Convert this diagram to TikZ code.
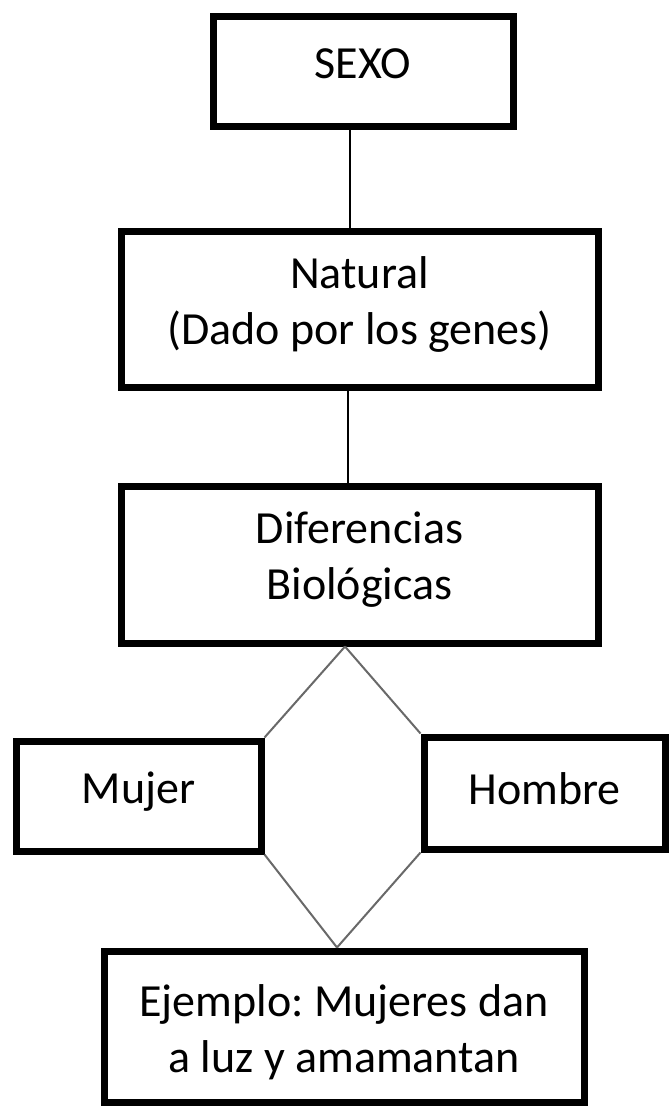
\documentclass[tikz,border=0pt]{standalone}
\usepackage{fontspec}
\setmainfont{Carlito}
\frenchspacing
\begin{document}
\begin{tikzpicture}[x=1pt,y=-1pt,
  box/.style={draw=black, line width=7pt, fill=white, inner sep=0pt, align=center,
    font=\fontsize{46}{56}\selectfont, execute at begin node=\strut, execute at end node=\strut},
  link/.style={line width=2pt, draw=black},
  diag/.style={line width=2pt, draw={rgb,255:red,105;green,105;blue,105}}]
\useasboundingbox (0,0) rectangle (669,1106);
\node[box, minimum width=300pt, minimum height=110pt] (sexo) at (363,71) {SEXO\rule[-25pt]{0pt}{0pt}};
\node[box, minimum width=477pt, minimum height=156pt] (natural) at (359.5,309) {Natural\\(Dado por los genes)};
\node[box, minimum width=477pt, minimum height=157pt] (dif) at (359.5,564.5) {Diferencias\\Biológicas};
\node[box, minimum width=245pt, minimum height=110pt] (mujer) at (138.5,796) {Mujer\rule[-24pt]{0pt}{0pt}};
\node[box, minimum width=241pt, minimum height=112pt] (hombre) at (544.5,793) {Hombre};
\node[box, minimum width=480pt, minimum height=151pt] (ej) at (344,1026.5) {\rule{0pt}{52pt}Ejemplo: Mujeres dan\\a luz y amamantan};
\draw[link] ([xshift=-13pt]sexo.south) -- ([xshift=-13pt]sexo.south |- natural.north);
\draw[link] ([xshift=-11.5pt]natural.south) -- ([xshift=-11.5pt]natural.south |- dif.north);
\draw[diag] ([xshift=-14.5pt]dif.south) -- (mujer.north east);
\draw[diag] ([xshift=-14.5pt]dif.south) -- (hombre.north west);
\draw[diag] (mujer.south east) -- ([xshift=-7pt]ej.north);
\draw[diag] (hombre.south west) -- ([xshift=-7pt]ej.north);
\end{tikzpicture}
\end{document}
